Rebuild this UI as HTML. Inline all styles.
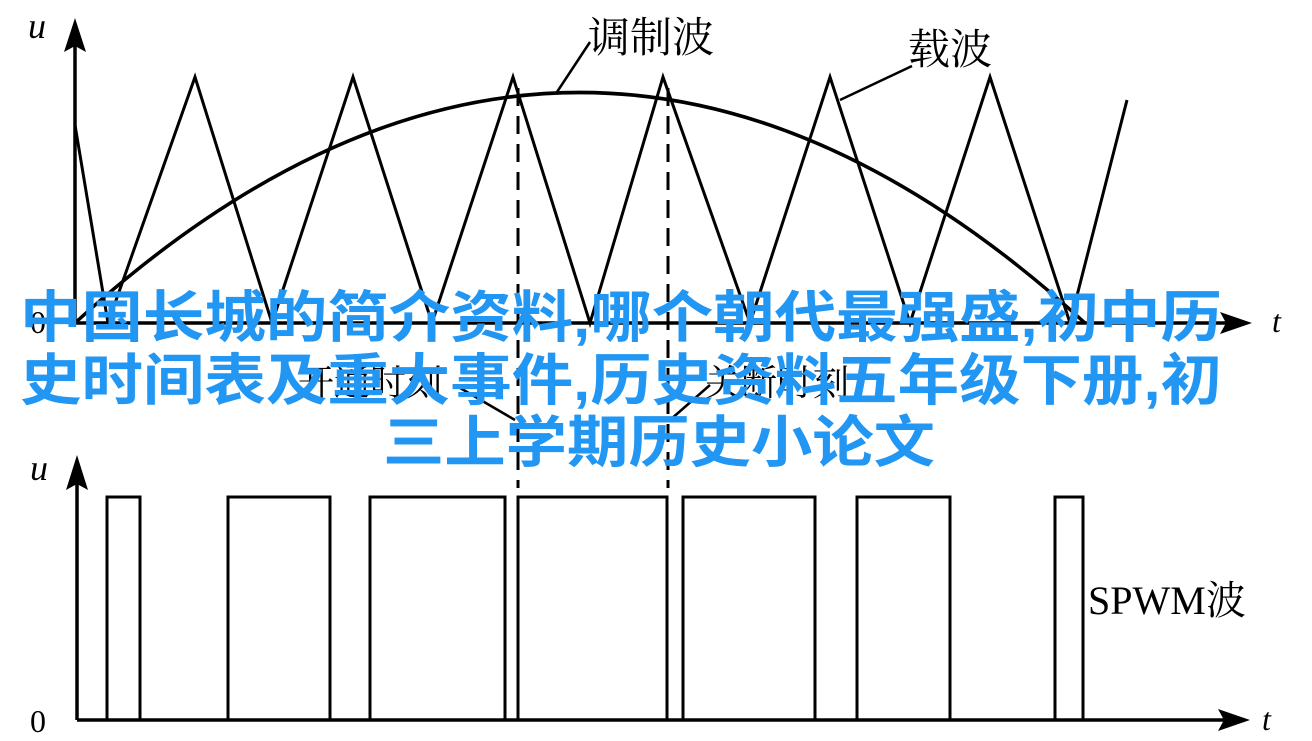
<!DOCTYPE html>
<html><head><meta charset="utf-8"><style>
html,body{margin:0;padding:0;background:#fff;}
svg{display:block;}
</style></head><body>
<svg width="1312" height="741" viewBox="0 0 1312 741" xmlns="http://www.w3.org/2000/svg">
<g stroke="#000" fill="none" stroke-width="3.5">
<line x1="75" y1="323" x2="75" y2="40"/>
<line x1="75" y1="323" x2="1232" y2="323"/>
<polyline stroke-width="3" points="75,125 108,323 195,77 272,323 353,77 432,323 513,77 590,323 663,77 750,323 830,77 910,323 990,77 1070,323 1127,100"/>
<path stroke-width="3.5" d="M75,323 Q580,-138 1085,323"/>
<line x1="518" y1="88" x2="518" y2="488" stroke-dasharray="18,10" stroke-width="3"/>
<line x1="668" y1="88" x2="668" y2="488" stroke-dasharray="18,10" stroke-width="3"/>
<line x1="557" y1="92" x2="590" y2="42" stroke-width="2.5"/>
<line x1="840" y1="100" x2="912" y2="66" stroke-width="2.5"/>
<line x1="455" y1="385" x2="515" y2="420" stroke-width="2.5"/>
<line x1="710" y1="385" x2="670" y2="420" stroke-width="2.5"/>
<line x1="77" y1="720" x2="77" y2="470"/>
<line x1="77" y1="720" x2="1232" y2="720"/>
<polyline stroke-width="3" points="77,720 107,720 107,497 140,497 140,720 228,720 228,497 330,497 330,720 370,720 370,497 505,497 505,720 518,720 518,497 667,497 667,720 683,720 683,497 815,497 815,720 857,720 857,497 950,497 950,720 1055,720 1055,497 1083,497 1083,720"/>
</g>
<g fill="#000">
<polygon points="75,18 64,52 75,46 86,52"/>
<polygon points="1252,323 1220,312 1226,323 1220,334"/>
<polygon points="77,455 66,490 77,484 88,490"/>
<polygon points="1250,720 1218,709 1224,720 1218,731"/>
</g>
<g font-family="Liberation Serif, Noto Serif CJK SC, serif" fill="#000">
<text x="28" y="38" font-size="36" font-style="italic">u</text>
<text x="30" y="333" font-size="32">0</text>
<text x="1272" y="332" font-size="32" font-style="italic">t</text>
<text x="588" y="52" font-size="42">调制波</text>
<text x="908" y="64" font-size="42">载波</text>
<text x="298" y="395" font-size="36">开通时刻</text>
<text x="705" y="395" font-size="36">关断时刻</text>
<text x="30" y="480" font-size="36" font-style="italic">u</text>
<text x="30" y="732" font-size="32">0</text>
<text x="1262" y="730" font-size="32" font-style="italic">t</text>
<text x="1088" y="614" font-size="40">SPWM波</text>
</g>
<g font-family="Liberation Sans, Noto Sans CJK SC, sans-serif" font-weight="bold" fill="#2196F3" font-size="56">
<text x="20" y="337" textLength="1202" lengthAdjust="spacingAndGlyphs">中国长城的简介资料,哪个朝代最强盛,初中历</text>
<text x="20" y="400" textLength="1202" lengthAdjust="spacingAndGlyphs">史时间表及重大事件,历史资料五年级下册,初</text>
<text x="383" y="462" textLength="552" lengthAdjust="spacingAndGlyphs">三上学期历史小论文</text>
</g>
</svg>
</body></html>
